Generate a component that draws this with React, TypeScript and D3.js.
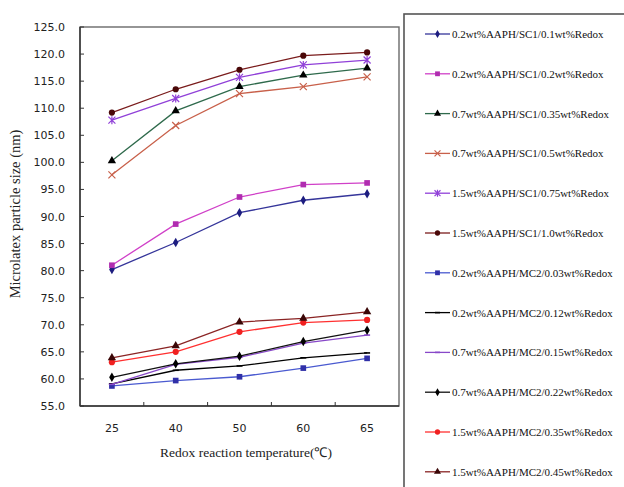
import * as d3 from 'd3';

// temperature categories (℃)
const temps = ['25', '40', '50', '60', '65'];
const yTicks = [55, 60, 65, 70, 75, 80, 85, 90, 95, 100, 105, 110, 115, 120, 125];

const names = [
    '0.2wt%AAPH/SC1/0.1wt%Redox',
    '0.2wt%AAPH/SC1/0.2wt%Redox',
    '0.7wt%AAPH/SC1/0.35wt%Redox',
    '0.7wt%AAPH/SC1/0.5wt%Redox',
    '1.5wt%AAPH/SC1/0.75wt%Redox',
    '1.5wt%AAPH/SC1/1.0wt%Redox',
    '0.2wt%AAPH/MC2/0.03wt%Redox',
    '0.2wt%AAPH/MC2/0.12wt%Redox',
    '0.7wt%AAPH/MC2/0.15wt%Redox',
    '0.7wt%AAPH/MC2/0.22wt%Redox',
    '1.5wt%AAPH/MC2/0.35wt%Redox',
    '1.5wt%AAPH/MC2/0.45wt%Redox',
];

// particle size (nm)
const sc1_01 = [80.2, 85.2, 90.7, 93.0, 94.2];
const sc1_02 = [81.0, 88.6, 93.6, 95.9, 96.2];
const sc1_035 = [100.3, 109.5, 114.0, 116.1, 117.4];
const sc1_05 = [97.7, 106.8, 112.7, 114.0, 115.8];
const sc1_075 = [107.8, 111.8, 115.7, 118.0, 118.9];
const sc1_10 = [109.2, 113.5, 117.1, 119.7, 120.3];
const mc2_003 = [58.7, 59.7, 60.4, 62.0, 63.8];
const mc2_012 = [59.1, 61.6, 62.4, 63.9, 64.8];
const mc2_015 = [59.0, 62.7, 64.0, 66.6, 68.1];
const mc2_022 = [60.3, 62.8, 64.2, 66.9, 69.0];
const mc2_035 = [63.1, 65.0, 68.7, 70.4, 70.9];
const mc2_045 = [63.9, 66.1, 70.5, 71.2, 72.4];

const values = [sc1_01, sc1_02, sc1_035, sc1_05, sc1_075, sc1_10,
    mc2_003, mc2_012, mc2_015, mc2_022, mc2_035, mc2_045];

type Marker = 'diamond' | 'square' | 'triangle' | 'x' | 'star' | 'circle' | 'dash';
const styles: { line: string; fill: string; marker: Marker }[] = [
    { line: '#35359a', fill: '#1d1d80', marker: 'diamond' },
    { line: '#d040c8', fill: '#b02cb0', marker: 'square' },
    { line: '#2f6a4c', fill: '#000000', marker: 'triangle' },
    { line: '#c8604a', fill: '#c8604a', marker: 'x' },
    { line: '#9040d8', fill: '#9040d8', marker: 'star' },
    { line: '#7a1c1c', fill: '#4a0808', marker: 'circle' },
    { line: '#4a5ad0', fill: '#3030a8', marker: 'square' },
    { line: '#000000', fill: '#000000', marker: 'dash' },
    { line: '#8848c8', fill: '#8848c8', marker: 'dash' },
    { line: '#111111', fill: '#000000', marker: 'diamond' },
    { line: '#ff3030', fill: '#f02020', marker: 'circle' },
    { line: '#8a2424', fill: '#3a0606', marker: 'triangle' },
];

const W = 624;
const H = 487;
const left = 80, right = 399, top = 27, bottom = 406;

const x = d3.scaleBand().domain(temps).range([left, right]);
const y = d3.scaleLinear().domain([55, 125]).range([bottom, top]);
const line = d3.line<number>()
    .x((_, i) => (x(temps[i]) || 0) + x.bandwidth() / 2)
    .y(d => y(d));

function MarkerShape({ m, cx, cy, fill, s = 1 }: { m: Marker; cx: number; cy: number; fill: string; s?: number }) {
    const t = `translate(${cx},${cy})`;
    if (m === 'x') {
        const r = 3.5 * s;
        return <path transform={t} d={`M${-r},${-r}L${r},${r}M${-r},${r}L${r},${-r}`} stroke={fill} strokeWidth={1.2} />;
    }
    if (m === 'star') {
        const r = 3.5 * s;
        return <path transform={t} d={`M${-r},${-r}L${r},${r}M${-r},${r}L${r},${-r}M0,${-r - 0.5}L0,${r + 0.5}`} stroke={fill} strokeWidth={1.2} />;
    }
    if (m === 'dash') {
        return <path transform={t} d={`M${-3 * s},0L${3 * s},0`} stroke={fill} strokeWidth={1.6} />;
    }
    const type = m === 'diamond' ? d3.symbolDiamond : m === 'square' ? d3.symbolSquare
        : m === 'triangle' ? d3.symbolTriangle : d3.symbolCircle;
    const size = (m === 'diamond' ? 26 : m === 'square' ? 32 : 30) * s * s;
    return <path transform={t} d={d3.symbol(type, size)() || ''} fill={fill} />;
}

export default function App() {
    const legendY0 = 34;
    const legendStep = 39.8;
    return (
        <svg width={W} height={H} style={{ position: 'absolute', left: 0, top: 0, background: '#fff' }}>
            {/* plot frame */}
            <rect x={left} y={top} width={right - left} height={bottom - top} fill="none" stroke="#6a6a6a" strokeWidth={1.4} />
            <line x1={left} x2={left} y1={top} y2={bottom} stroke="#333" strokeWidth={1.4} />
            <line x1={left} x2={right} y1={bottom} y2={bottom} stroke="#333" strokeWidth={1.4} />

            {/* y axis */}
            {yTicks.map(v => (
                <g key={v}>
                    <line x1={left} x2={left + 4} y1={y(v)} y2={y(v)} stroke="#333" />
                    <text x={65} y={y(v) + 4} textAnchor="end" fontFamily="DejaVu Sans" fontSize={11} fill="#222">{v.toFixed(1)}</text>
                </g>
            ))}
            {/* x axis */}
            {temps.slice(1).map(t => (
                <line key={t} x1={x(t)} x2={x(t)} y1={bottom} y2={bottom - 4} stroke="#333" />
            ))}
            {temps.map(t => (
                <text key={t} x={(x(t) || 0) + x.bandwidth() / 2} y={432} textAnchor="middle" fontFamily="DejaVu Sans" fontSize={11} fill="#222">{t}</text>
            ))}
            <text x={246} y={457} textAnchor="middle" fontFamily="Liberation Serif" fontSize={13.5} fill="#222">Redox reaction temperature(℃)</text>
            <text transform="translate(20,214) rotate(-90)" textAnchor="middle" fontFamily="Liberation Serif" fontSize={14.5} fill="#222">Microlatex particle size (nm)</text>

            {/* series */}
            {values.map((vals, i) => (
                <g key={names[i]}>
                    <path d={line(vals) || ''} fill="none" stroke={styles[i].line} strokeWidth={1.3} />
                    {vals.map((v, j) => (
                        <MarkerShape key={j} m={styles[i].marker} cx={(x(temps[j]) || 0) + x.bandwidth() / 2} cy={y(v)} fill={styles[i].fill} />
                    ))}
                </g>
            ))}

            {/* legend */}
            <rect x={404} y={14} width={240} height={500} fill="#fff" stroke="#555" strokeWidth={1.6} />
            {names.map((n, i) => {
                const ly = legendY0 + i * legendStep;
                return (
                    <g key={n}>
                        <line x1={425} x2={450} y1={ly} y2={ly} stroke={styles[i].line} strokeWidth={1.3} />
                        <MarkerShape m={styles[i].marker} cx={437.5} cy={ly} fill={styles[i].fill} s={0.85} />
                        <text x={452} y={ly + 4} fontFamily="Liberation Serif" fontSize={11} fill="#111">{n}</text>
                    </g>
                );
            })}
        </svg>
    );
}
